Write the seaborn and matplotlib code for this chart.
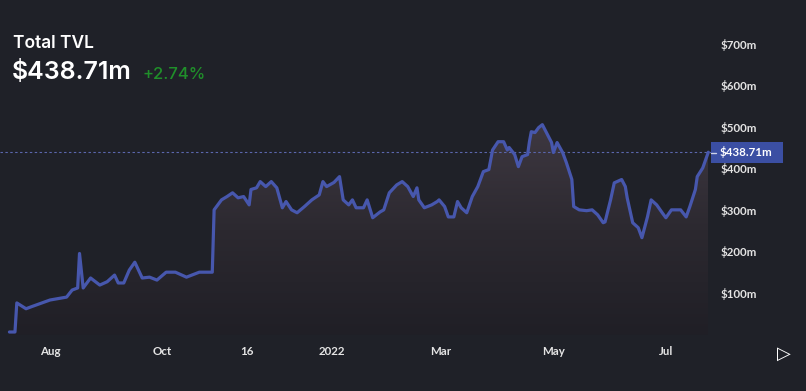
import numpy as np
import pandas as pd
import matplotlib
matplotlib.use("Agg")
import matplotlib.pyplot as plt
import matplotlib.dates as mdates
from matplotlib.colors import LinearSegmentedColormap
from matplotlib.patches import Rectangle
from matplotlib.lines import Line2D
import seaborn as sns

# ---------------- data ----------------
dates = [
    "2021-07-10", "2021-07-13", "2021-07-14", "2021-07-19", "2021-07-22", "2021-08-01",
    "2021-08-10", "2021-08-13", "2021-08-16", "2021-08-17", "2021-08-19", "2021-08-23",
    "2021-08-28", "2021-09-01", "2021-09-05", "2021-09-07", "2021-09-10", "2021-09-13",
    "2021-09-16", "2021-09-18", "2021-09-20", "2021-09-24", "2021-09-28", "2021-10-03",
    "2021-10-08", "2021-10-14", "2021-10-21", "2021-10-27", "2021-10-28", "2021-10-29",
    "2021-11-02", "2021-11-05", "2021-11-08", "2021-11-11", "2021-11-14", "2021-11-17",
    "2021-11-18", "2021-11-21", "2021-11-23", "2021-11-26", "2021-11-29", "2021-12-02",
    "2021-12-05", "2021-12-07", "2021-12-10", "2021-12-13", "2021-12-17", "2021-12-21",
    "2021-12-25", "2021-12-27", "2021-12-29", "2022-01-02", "2022-01-05", "2022-01-07",
    "2022-01-10", "2022-01-12", "2022-01-14", "2022-01-18", "2022-01-20", "2022-01-23",
    "2022-01-27", "2022-01-29", "2022-02-01", "2022-02-05", "2022-02-08", "2022-02-11",
    "2022-02-14", "2022-02-16", "2022-02-17", "2022-02-20", "2022-02-24", "2022-02-27",
    "2022-02-28", "2022-03-03", "2022-03-05", "2022-03-08", "2022-03-10", "2022-03-12",
    "2022-03-15", "2022-03-18", "2022-03-21", "2022-03-24", "2022-03-27", "2022-03-29",
    "2022-04-01", "2022-04-04", "2022-04-06", "2022-04-07", "2022-04-10", "2022-04-12",
    "2022-04-14", "2022-04-17", "2022-04-18", "2022-04-19", "2022-04-21", "2022-04-23",
    "2022-04-25", "2022-04-27", "2022-04-30", "2022-05-01", "2022-05-03", "2022-05-06",
    "2022-05-08", "2022-05-11", "2022-05-12", "2022-05-15", "2022-05-19", "2022-05-22",
    "2022-05-25", "2022-05-28", "2022-05-29", "2022-06-01", "2022-06-03", "2022-06-07",
    "2022-06-09", "2022-06-10", "2022-06-13", "2022-06-16", "2022-06-18", "2022-06-21",
    "2022-06-23", "2022-06-26", "2022-06-29", "2022-07-01", "2022-07-04", "2022-07-07",
    "2022-07-09", "2022-07-12", "2022-07-14", "2022-07-17", "2022-07-18", "2022-07-21",
    "2022-07-24",
]
tvl_m = [
    6, 6, 76, 62, 67, 83,
    90, 107, 112, 195, 112, 136,
    119, 127, 143, 124, 124, 155,
    174, 155, 136, 138, 131, 150,
    150, 138, 150, 150, 150, 300,
    324, 332, 341, 329, 332, 312,
    349, 353, 368, 356, 368, 353,
    305, 320, 300, 293, 308, 324,
    336, 368, 356, 366, 380, 324,
    312, 324, 305, 305, 324, 281,
    295, 300, 341, 360, 368, 356,
    332, 353, 324, 305, 312, 320,
    324, 308, 283, 283, 320, 305,
    293, 332, 356, 392, 397, 444,
    464, 464, 444, 450, 433, 404,
    428, 433, 464, 488, 486, 498,
    505, 488, 462, 438, 462, 438,
    414, 373, 308, 300, 298, 300,
    288, 269, 271, 324, 365, 373,
    356, 329, 269, 257, 233, 283,
    324, 312, 293, 281, 300, 300,
    300, 283, 308, 349, 380, 401,
    438.71,
]
y_ticks = [100, 200, 300, 400, 500, 600, 700]
y_tick_labels = ["$100m", "$200m", "$300m", "$400m", "$500m", "$600m", "$700m"]
x_tick_dates = ["2021-08-01", "2021-10-01", "2021-11-16", "2022-01-01",
                "2022-03-01", "2022-05-01", "2022-07-01"]
x_tick_labels = ["Aug", "Oct", "16", "2022", "Mar", "May", "Jul"]
title = "Total TVL"
current_value_label = "$438.71m"
current_value = 438.71
change_label = "+2.74%"

df = pd.DataFrame({"date": pd.to_datetime(dates), "tvl": tvl_m})

# ---------------- style ----------------
sns.set_theme(style="dark")
plt.rcParams["font.family"] = ["Lato", "DejaVu Sans"]
BG = "#1f2128"
LINE = "#4757ad"
W, H = 806, 391

fig = plt.figure(figsize=(W / 100, H / 100), dpi=100, facecolor=BG)
ax_top_px, ax_bot_px, ax_right_px = 10, 334.5, 711
ax = fig.add_axes([0, (H - ax_bot_px) / H, ax_right_px / W, (ax_bot_px - ax_top_px) / H])
ax.set_facecolor(BG)

# gradient area fill
xnum = mdates.date2num(df["date"])
poly = ax.fill_between(df["date"], df["tvl"], 0, facecolor="none", edgecolor="none")
cmap = LinearSegmentedColormap.from_list("fillgrad", ["#201f26", "#2c2930", "#3e3841"])
ymax_fill = max(tvl_m)
grad = np.linspace(0, 1, 256).reshape(-1, 1)
im = ax.imshow(grad, extent=[xnum[0], xnum[-1], 0, ymax_fill], origin="lower",
               aspect="auto", cmap=cmap, zorder=1)
path = poly.get_paths()[0]
im.set_clip_path(path, transform=ax.transData)

sns.lineplot(data=df, x="date", y="tvl", ax=ax, color=LINE, lw=2.3, zorder=3)

# current value dashed line
ax.axhline(current_value, color="#5b67ad", lw=0.8, ls=(0, (2.2, 2.2)), zorder=2)

x_left = pd.Timestamp("2021-08-01") - pd.Timedelta(days=50 / 1.844)
x_right = pd.Timestamp("2021-08-01") + pd.Timedelta(days=(ax_right_px - 50) / 1.844)
ax.set_xlim(x_left, x_right)
ax.set_ylim(0, (ax_bot_px - ax_top_px) / 0.4155)

ax.set_xticks(pd.to_datetime(x_tick_dates))
ax.set_xticklabels(x_tick_labels)
ax.yaxis.tick_right()
ax.set_yticks(y_ticks)
ax.set_yticklabels(y_tick_labels)
ax.tick_params(axis="x", length=0, pad=8, labelcolor="#e4e4e4", labelsize=8.3)
ax.tick_params(axis="y", length=0, pad=7, labelcolor="#e4e4e4", labelsize=8.3)
for lab in ax.get_xticklabels() + ax.get_yticklabels():
    lab.set_fontweight("bold")
ax.set_xlabel("")
ax.set_ylabel("")
ax.grid(False)
for s in ax.spines.values():
    s.set_visible(False)

# current value tag on the right axis
box_top, box_bot = 142, 163
fig.patches.append(Rectangle((711 / W, (H - box_bot) / H), 72 / W, (box_bot - box_top) / H,
                             transform=fig.transFigure, facecolor="#3b4fa3", edgecolor="none"))
fig.lines.append(Line2D([711 / W, 716 / W], [(H - 152.5) / H] * 2, transform=fig.transFigure,
                        color="#cfd3e8", lw=1))
fig.text(720 / W, (H - 152.5) / H, current_value_label, color="white", fontsize=8.3,
         fontweight="bold", ha="left", va="center")

# header
fig.text(13 / W, (H - 48) / H, title, color="white", fontsize=12.5, family=["Inter", "DejaVu Sans"],
         fontweight="semibold", ha="left", va="baseline")
fig.text(12 / W, (H - 79) / H, current_value_label, color="white", fontsize=18,
         family=["Inter", "DejaVu Sans"], fontweight="semibold", ha="left", va="baseline")
fig.text(143 / W, (H - 79) / H, change_label, color="#1f8f2a", fontsize=12,
         family=["Inter", "DejaVu Sans"], fontweight="medium", ha="left", va="baseline")

# play icon
fig.text(784 / W, (H - 354) / H, "▷", color="white", fontsize=13, family=["DejaVu Sans"],
         ha="center", va="center")

fig.savefig("out.png", dpi=100, facecolor=BG)
